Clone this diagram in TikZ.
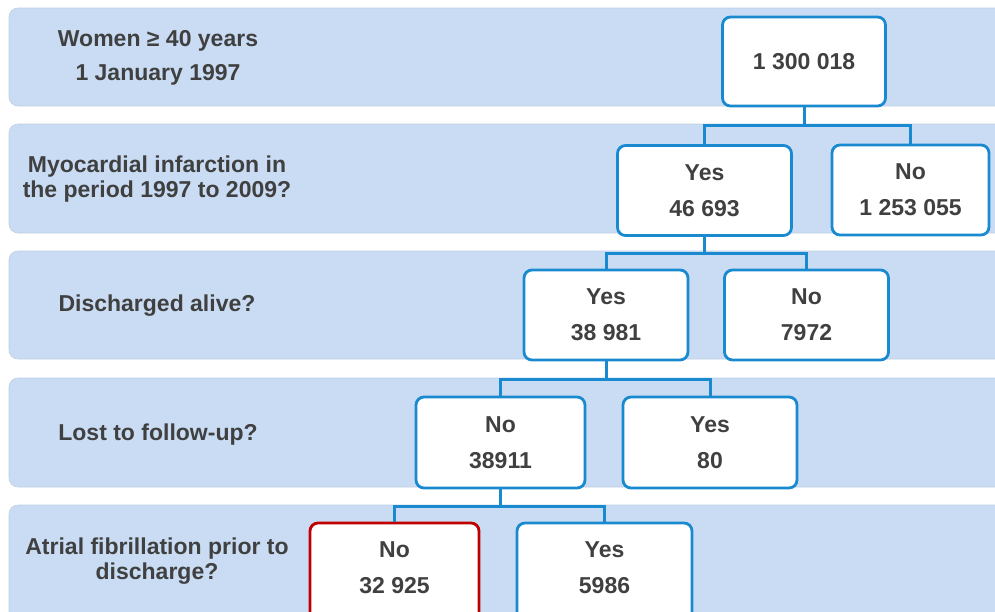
\documentclass[tikz,border=0pt]{standalone}
\usepackage{fontspec}
\setmainfont{Liberation Sans}
\definecolor{bandc}{HTML}{C9DCF3}
\definecolor{boxc}{HTML}{1A8AD0}
\definecolor{redc}{HTML}{C00000}
\definecolor{txtc}{HTML}{404040}
\begin{document}
\begin{tikzpicture}[x=1pt,y=-1pt,
  band/.style={fill=bandc,draw=bandc!85!gray,line width=0.6pt,rounded corners=9pt},
  lab/.style={text=txtc,font=\bfseries\fontsize{23}{25}\selectfont,align=center,inner sep=0pt},
  cbox/.style={draw=boxc,line width=2.8pt,fill=white,rounded corners=8pt,text=txtc,
    font=\bfseries\fontsize{23}{36}\selectfont,align=center,inner sep=0pt},
  redbox/.style={cbox,draw=redc},
  conn/.style={draw=boxc,line width=3pt}]
\useasboundingbox (0,0) rectangle (995,611);
\clip (0,0) rectangle (995,611);
% bands
\path[band] (9,8) rectangle (1010,106);
\path[band] (9,124) rectangle (1010,233);
\path[band] (9,251) rectangle (1010,359);
\path[band] (9,378) rectangle (1010,487);
\path[band] (9,505) rectangle (1010,630);
% left labels
\node[lab,font=\bfseries\fontsize{23}{34}\selectfont] (l1) at (158,58) {Women ≥ 40 years\\1 January 1997};
\node[lab] (l2) at (157,179) {Myocardial infarction in\\the period 1997 to 2009?};
\node[lab] (l3) at (157,306) {Discharged alive?};
\node[lab] (l4) at (158,435) {Lost to follow-up?};
\node[lab] (l5) at (157,561) {Atrial fibrillation prior to\\discharge?};
% boxes
\node[cbox,minimum width=163pt,minimum height=89pt] (root) at (804,61.5) {1 300 018};
\node[cbox,minimum width=174pt,minimum height=90pt] (y2) at (704.5,190.5) {Yes\\46 693};
\node[cbox,minimum width=157pt,minimum height=90pt] (n2) at (910.5,190) {No\\1 253 055};
\node[cbox,minimum width=164pt,minimum height=90pt] (y3) at (606,315) {Yes\\38 981};
\node[cbox,minimum width=164pt,minimum height=90pt] (n3) at (806.5,315) {No\\7972};
\node[cbox,minimum width=169pt,minimum height=91pt] (n4) at (500.5,442.5) {No\\38911};
\node[cbox,minimum width=174pt,minimum height=91pt] (y4) at (710,442.5) {Yes\\80};
\node[redbox,minimum width=169pt,minimum height=100pt] (n5) at (394.5,573) {};
\node[cbox,minimum width=175pt,minimum height=100pt] (y5) at (604.5,573) {};
\node[cbox,draw=none,fill=none] (n5t) at (394.5,568) {No\\32 925};
\node[cbox,draw=none,fill=none] (y5t) at (604.5,568) {Yes\\5986};
% connectors
\coordinate (b1) at (804,125);
\coordinate (b2) at (704.5,253);
\coordinate (b3) at (606,379);
\coordinate (b4) at (500.5,506);
\draw[conn] (root.south) -- (b1);
\draw[conn] (y2.north) |- (b1) -| (n2.north);
\draw[conn] (y2.south) -- (b2);
\draw[conn] (y3.north) |- (b2) -| (n3.north);
\draw[conn] (y3.south) -- (b3);
\draw[conn] (n4.north) |- (b3) -| (y4.north);
\draw[conn] (n4.south) -- (b4);
\draw[conn] (n5.north) |- (b4) -| (y5.north);
\end{tikzpicture}
\end{document}
